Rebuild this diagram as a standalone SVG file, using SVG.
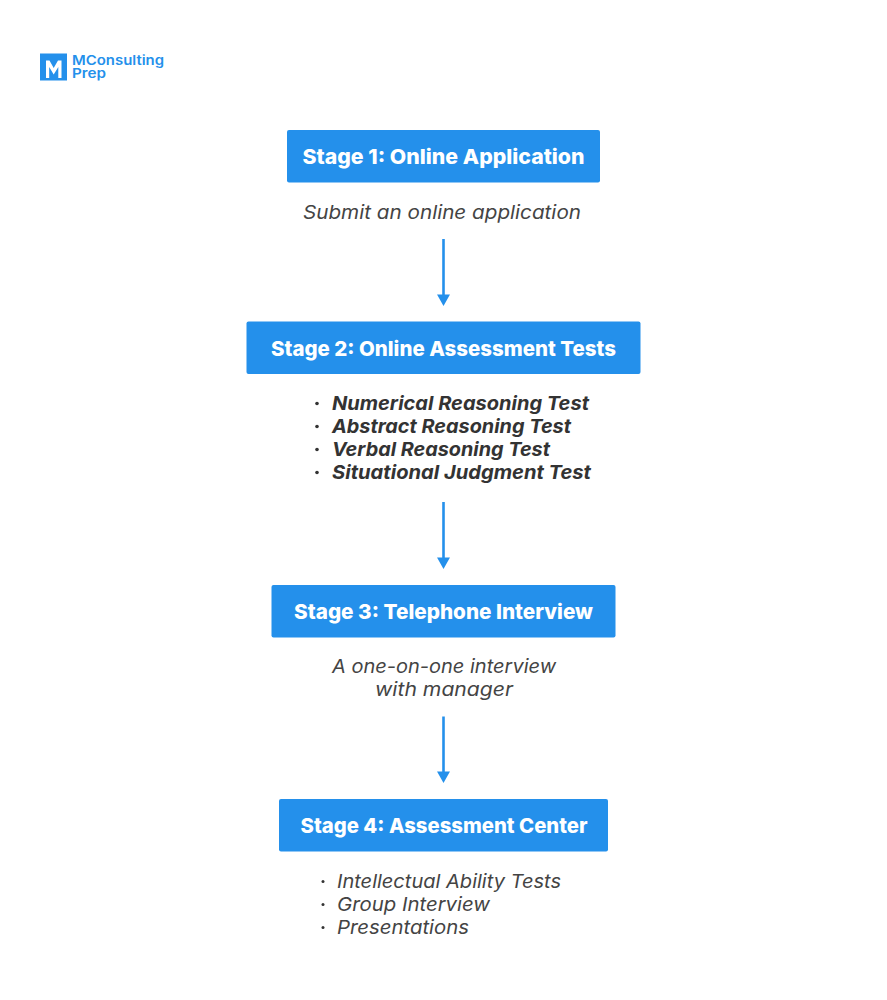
<svg xmlns="http://www.w3.org/2000/svg" width="887" height="1000" viewBox="0 0 887 1000">
<style>
text{font-family:"Inter","Open Sans","Liberation Sans",sans-serif}
.box{fill:#2490eb}
.stage{fill:#fff;font-size:20.5px;font-weight:800}
.it{fill:#444;font-size:19px;font-style:italic;font-weight:400}
.bi{fill:#333;font-size:19px;font-style:italic;font-weight:700}
.dot{fill:#333}
.conn{stroke:#2490eb;stroke-width:2.6;fill:none}
.head{fill:#2490eb}
.logo{fill:#2490eb;font-size:13px;font-weight:600}
</style>
<rect width="887" height="1000" fill="#fff"/>
<g id="logo">
<rect x="40" y="53.500" width="27" height="27" class="box"/>
<path d="M46 78V60.500H49.500L53.700 68L58 60.500H61.500V78H58.300V67L53.700 74.500L49.200 67V78Z" fill="#fff"/>
<text class="logo" x="72" y="65" textLength="92" lengthAdjust="spacingAndGlyphs">MConsulting</text>
<text class="logo" x="72" y="78" textLength="34" lengthAdjust="spacingAndGlyphs">Prep</text>
</g>
<g id="connectors">
<path class="conn" d="M443.500 239V296"/><path class="head" d="M437 294.500H450L443.500 306Z"/>
<path class="conn" d="M443.500 502V559"/><path class="head" d="M437 557.500H450L443.500 569Z"/>
<path class="conn" d="M443.500 716.500V773"/><path class="head" d="M437 771.500H450L443.500 783Z"/>
</g>
<g id="stage1">
<rect class="box" x="287" y="130" width="313" height="52.500" rx="2"/>
<text class="stage" x="302.500" y="163.700" textLength="282" lengthAdjust="spacingAndGlyphs">Stage 1: Online Application</text>
</g>
<text id="stage1-note" class="it" x="303" y="218.700" textLength="278" lengthAdjust="spacingAndGlyphs">Submit an online application</text>
<g id="stage2">
<rect class="box" x="246.500" y="321.500" width="394" height="52.500" rx="2"/>
<text class="stage" x="271" y="355.700" textLength="345" lengthAdjust="spacingAndGlyphs">Stage 2: Online Assessment Tests</text>
</g>
<g id="stage2-list">
<circle class="dot" cx="317" cy="403.500" r="1.800"/><text class="bi" x="332" y="409.600" textLength="257" lengthAdjust="spacingAndGlyphs">Numerical Reasoning Test</text>
<circle class="dot" cx="317" cy="426.500" r="1.800"/><text class="bi" x="332" y="432.600" textLength="239" lengthAdjust="spacingAndGlyphs">Abstract Reasoning Test</text>
<circle class="dot" cx="317" cy="449.500" r="1.800"/><text class="bi" x="332" y="455.600" textLength="218" lengthAdjust="spacingAndGlyphs">Verbal Reasoning Test</text>
<circle class="dot" cx="317" cy="472.500" r="1.800"/><text class="bi" x="332" y="478.600" textLength="259" lengthAdjust="spacingAndGlyphs">Situational Judgment Test</text>
</g>
<g id="stage3">
<rect class="box" x="271.500" y="585" width="344" height="52.500" rx="2"/>
<text class="stage" x="294" y="618.700" textLength="299" lengthAdjust="spacingAndGlyphs">Stage 3: Telephone Interview</text>
</g>
<g id="stage3-note">
<text class="it" x="332" y="672.700" textLength="224" lengthAdjust="spacingAndGlyphs">A one-on-one interview</text>
<text class="it" x="375" y="695.700" textLength="138" lengthAdjust="spacingAndGlyphs">with manager</text>
</g>
<g id="stage4">
<rect class="box" x="279" y="799" width="329" height="52.500" rx="2"/>
<text class="stage" x="300.500" y="832.700" textLength="287" lengthAdjust="spacingAndGlyphs">Stage 4: Assessment Center</text>
</g>
<g id="stage4-list">
<circle class="dot" cx="323" cy="881.500" r="1.500"/><text class="it" x="337" y="887.700" textLength="224" lengthAdjust="spacingAndGlyphs">Intellectual Ability Tests</text>
<circle class="dot" cx="323" cy="904.500" r="1.500"/><text class="it" x="337" y="910.700" textLength="153" lengthAdjust="spacingAndGlyphs">Group Interview</text>
<circle class="dot" cx="323" cy="927.500" r="1.500"/><text class="it" x="337" y="933.700" textLength="132" lengthAdjust="spacingAndGlyphs">Presentations</text>
</g>
</svg>
